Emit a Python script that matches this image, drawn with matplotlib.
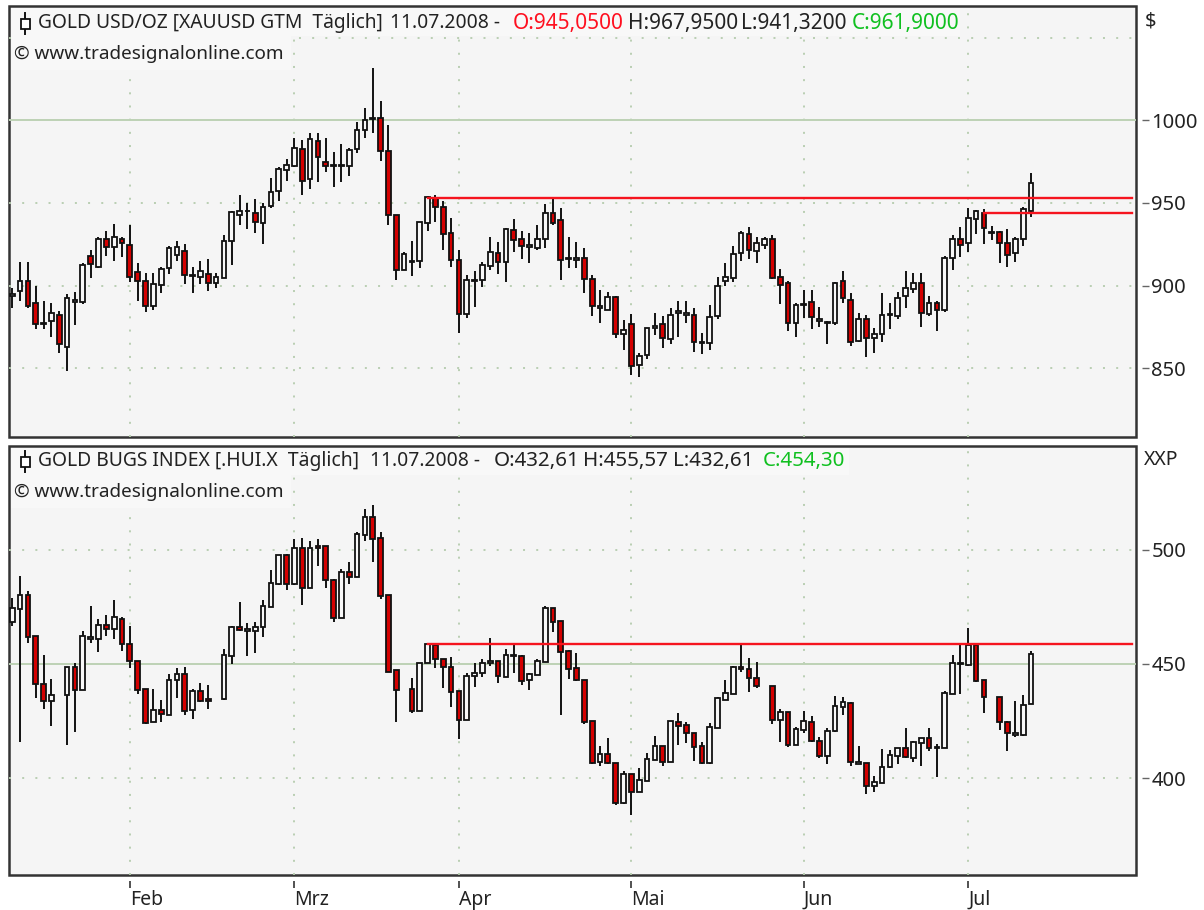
import numpy as np
import matplotlib
matplotlib.use('Agg')
import matplotlib.pyplot as plt
from matplotlib.lines import Line2D
from matplotlib.patches import Rectangle

nan = np.nan

# Gold USD/OZ, daily
gold_open = [894.0, 897.0, 902.9, 889.4, 877.7, 878.7, 882.3, 862.8, 890.4, 890.4,
             917.8, 911.5, 928.0, 923.4, 928.2, 924.6, 908.5, 902.9, 887.7, 900.4,
             910.7, 918.6, 921.0, 906.5, 905.1, 907.3, 901.4, 904.9, 926.8, 942.8,
             945.0, 943.8, 938.1, 948.4, 957.5, 970.2, 972.4, 982.7, 964.3, 987.5,
             975.0, 972.6, 972.6, 972.4, 982.9, 994.1, 1000.6, 1001.4, 981.6, 943.0,
             909.5, 914.6, 915.2, 938.1, 952.8, 947.6, 931.7, 915.6, 882.9, 902.7,
             903.7, 911.7, 920.0, 914.1, 933.9, 928.3, 923.4, 922.6, 928.1, 944.0,
             939.5, 916.2, 915.5, 916.5, 904.1, 886.7, 885.3, 893.0, 870.6, 876.7,
             852.1, 858.1, 874.2, 876.7, 868.0, 883.3, 882.3, 882.3, 865.2, 865.2,
             881.9, 902.6, 904.9, 920.0, 931.5, 921.0, 924.6, 928.0, 905.1, 901.8,
             877.7, 888.3, 890.4, 878.9, 877.7, 877.3, 902.6, 891.2, 866.8, 880.1,
             868.4, 870.8, 882.1, 881.9, 893.6, 898.2, 901.6, 883.1, 889.6, 885.3,
             916.6, 928.0, 925.6, 940.3, 944.2, 931.7, 932.5, 925.6, 919.8, 928.0, 945.05]
gold_high = [898.4, 914.5, 914.5, 899.8, 890.6, 889.4, 884.7, 895.0, 896.2, 913.6,
             921.6, 929.7, 933.1, 937.5, 929.7, 936.7, 913.6, 907.9, 907.9, 911.5,
             924.0, 927.2, 925.0, 911.3, 914.7, 915.9, 907.5, 930.9, 945.4, 954.8,
             950.2, 952.4, 949.8, 965.1, 972.0, 976.4, 989.1, 988.1, 992.5, 992.5,
             989.1, 981.0, 985.7, 983.1, 999.2, 1007.2, 1031.4, 1011.9, 997.2, 943.0,
             920.2, 927.2, 938.7, 954.2, 954.9, 951.2, 940.8, 921.6, 906.5, 909.1,
             914.5, 929.7, 926.2, 935.1, 940.1, 933.1, 932.1, 936.7, 949.2, 953.2,
             946.8, 929.7, 926.2, 922.6, 906.5, 897.4, 896.4, 893.8, 879.3, 882.7,
             859.5, 874.6, 883.7, 881.7, 886.3, 890.8, 890.8, 886.3, 871.2, 888.3,
             905.5, 913.5, 924.0, 933.3, 935.3, 929.2, 929.6, 930.7, 910.1, 903.0,
             889.3, 897.4, 897.4, 887.3, 878.9, 902.0, 909.1, 895.4, 883.7, 882.3,
             874.6, 895.4, 889.4, 896.4, 908.9, 907.9, 907.9, 894.0, 890.6, 918.0,
             930.5, 935.3, 946.8, 945.8, 946.6, 936.3, 932.9, 934.1, 929.3, 947.8, 967.95]
gold_low = [886.3, 891.0, 886.8, 873.6, 873.6, 869.2, 859.1, 848.6, 876.3, 888.7,
            904.7, 910.5, 918.2, 914.9, 917.2, 902.5, 890.8, 884.1, 885.1, 895.4,
            906.9, 914.9, 901.0, 895.4, 901.2, 896.6, 898.8, 904.5, 912.5, 936.5,
            934.3, 932.1, 925.2, 946.8, 951.4, 963.1, 972.0, 954.8, 958.3, 962.9,
            968.6, 959.5, 962.9, 966.5, 980.0, 989.1, 992.5, 975.4, 936.7, 903.5,
            909.3, 905.9, 910.5, 933.1, 938.7, 921.6, 911.5, 871.2, 880.3, 887.4,
            899.0, 909.5, 907.1, 902.5, 920.6, 916.0, 914.0, 921.6, 922.6, 936.7,
            903.5, 910.5, 910.5, 895.4, 881.7, 877.3, 885.0, 868.2, 861.1, 846.0,
            845.0, 855.5, 870.2, 862.1, 864.8, 869.2, 877.3, 860.1, 858.7, 861.1,
            879.7, 900.0, 902.4, 914.9, 915.9, 913.9, 922.0, 903.9, 888.7, 872.8,
            869.2, 880.7, 873.8, 875.2, 864.8, 876.2, 889.8, 863.6, 865.8, 856.7,
            859.1, 866.0, 873.8, 879.7, 886.3, 895.4, 874.8, 881.9, 872.6, 884.1,
            909.3, 917.2, 920.2, 931.3, 925.2, 927.6, 913.9, 911.5, 914.5, 924.0, 941.32]
gold_close = [894.8, 902.9, 887.7, 876.7, 876.9, 883.5, 865.0, 892.6, 891.4, 912.5,
              913.1, 928.4, 923.6, 929.3, 925.6, 905.1, 902.9, 887.7, 900.8, 910.1,
              922.6, 923.6, 906.3, 906.1, 908.7, 901.6, 905.3, 927.2, 944.4, 945.2,
              945.4, 938.5, 947.6, 956.7, 970.6, 972.8, 983.1, 963.3, 988.7, 978.0,
              972.6, 973.0, 973.0, 982.2, 994.3, 1000.2, 1001.4, 981.6, 942.8, 909.5,
              919.2, 915.2, 938.3, 953.8, 947.4, 931.3, 915.6, 882.9, 903.3, 903.3,
              912.3, 920.2, 914.1, 934.1, 927.9, 924.2, 924.6, 928.3, 944.2, 938.1,
              915.4, 917.0, 916.5, 903.9, 887.9, 887.9, 893.0, 870.6, 873.0, 851.5,
              857.3, 874.4, 875.6, 868.6, 882.5, 884.7, 883.5, 866.2, 866.2, 881.3,
              899.6, 905.3, 919.2, 932.1, 921.4, 926.0, 928.2, 904.9, 900.4, 877.7,
              888.3, 889.2, 881.3, 880.1, 878.1, 901.8, 892.6, 866.2, 880.1, 868.6,
              871.0, 882.5, 882.7, 892.8, 898.6, 901.8, 883.3, 889.4, 885.5, 917.0,
              928.2, 924.6, 940.7, 945.2, 934.7, 932.5, 925.6, 918.6, 928.0, 946.6, 961.90]

# Gold Bugs Index, days without a print stay empty
hui_open = [468.4, 474.2, 480.2, 462.1, 441.2, 433.6, nan, 436.3, 448.8, 438.7,
            461.1, 461.1, 466.9, 465.1, 469.7, 458.7, 451.1, 438.9, 424.6, 429.7,
            427.8, 443.0, 445.5, 429.7, 438.0, 434.5, nan, 434.5, 453.6, 466.0,
            464.4, 464.3, 466.0, 475.1, 484.8, 497.7, 484.8, 500.9, 483.4, 501.8,
            501.8, 486.8, 470.1, 490.2, 488.2, 506.6, 514.2, 505.1, 480.2, 447.2,
            nan, 438.9, 429.5, 450.3, 458.1, 452.0, 448.7, 438.0, 425.5, 444.6,
            446.2, 450.3, 451.1, 444.4, 453.5, 453.6, 442.8, 445.3, 451.0, 474.3,
            468.6, 455.7, 448.1, 442.9, 424.9, 407.1, 410.6, 406.5, 389.0, 401.7,
            393.9, 398.9, 407.9, 414.1, 407.2, 424.7, 423.1, 419.9, 414.1, 406.5,
            422.1, 434.2, 437.0, 448.5, 447.8, 443.7, nan, 440.5, 425.4, 428.8,
            414.5, 421.2, 424.7, 416.4, 409.8, 420.5, 431.1, 433.0, 406.3, 406.6,
            396.6, 398.0, 404.7, 409.7, 413.2, 408.7, 415.5, 417.4, 413.2, 413.1,
            437.0, 449.8, 449.4, 458.1, 443.0, nan, 435.7, 424.7, 418.9, 418.7, 432.61]
hui_high = [478.7, 488.6, 482.1, 462.2, 453.9, 443.3, nan, 448.8, 450.6, 464.6,
            475.4, 469.7, 471.4, 478.0, 470.4, 466.6, 451.4, 438.9, 439.0, 434.1,
            445.6, 448.1, 448.8, 438.9, 441.5, 440.6, nan, 456.4, 466.8, 477.3,
            468.1, 468.2, 478.0, 491.1, 497.9, 498.0, 504.7, 505.3, 503.8, 504.5,
            501.8, 487.0, 491.4, 494.5, 507.6, 517.7, 519.4, 507.6, 480.2, 447.4,
            nan, 444.0, 450.6, 458.8, 458.6, 452.0, 453.2, 438.3, 446.2, 450.6,
            452.0, 461.5, 451.3, 456.4, 458.3, 453.9, 446.2, 452.0, 475.4, 474.3,
            468.8, 455.9, 454.6, 442.9, 425.0, 414.1, 417.4, 406.5, 403.3, 401.7,
            404.3, 410.9, 418.4, 414.1, 425.0, 428.4, 424.7, 419.9, 416.0, 424.0,
            435.4, 443.0, 449.1, 458.3, 452.4, 450.7, nan, 440.5, 430.1, 429.1,
            422.2, 429.5, 427.3, 418.2, 421.8, 435.9, 435.7, 433.2, 414.1, 406.8,
            400.9, 412.6, 412.3, 413.3, 421.8, 416.4, 417.7, 421.8, 414.9, 438.1,
            453.9, 458.3, 465.6, 458.3, 443.0, nan, 435.7, 425.0, 433.9, 436.5, 455.57]
hui_low = [466.7, 416.0, 459.3, 435.1, 430.3, 422.8, nan, 414.5, 420.3, 438.5,
           459.3, 455.1, 462.4, 460.8, 455.8, 448.1, 436.7, 423.6, 424.5, 424.4,
           427.7, 435.2, 427.6, 426.1, 433.5, 430.3, nan, 434.4, 449.8, 464.4,
           453.5, 454.9, 461.6, 475.0, 484.7, 482.4, 484.7, 475.8, 483.3, 493.0,
           483.1, 468.2, 470.0, 485.0, 488.1, 504.0, 494.8, 478.3, 446.3, 424.4,
           nan, 428.7, 429.4, 450.2, 448.4, 439.3, 431.0, 417.0, 425.4, 440.1,
           444.4, 449.2, 441.8, 444.3, 445.9, 440.8, 438.6, 445.2, 450.9, 464.1,
           427.7, 443.2, 442.7, 423.7, 406.2, 405.5, 406.4, 388.1, 388.9, 383.9,
           393.8, 398.8, 407.8, 405.5, 407.1, 414.5, 415.2, 407.6, 406.4, 406.4,
           422.0, 434.1, 436.9, 446.6, 437.6, 439.3, nan, 423.6, 415.9, 413.6,
           414.4, 419.6, 416.0, 409.0, 406.0, 420.4, 427.6, 405.5, 406.2, 392.9,
           393.8, 397.9, 404.6, 406.2, 409.0, 406.9, 405.3, 412.0, 400.4, 413.0,
           436.9, 436.8, 449.3, 442.1, 428.4, nan, 421.1, 411.9, 417.9, 418.6, 432.61]
hui_close = [474.3, 480.3, 461.6, 441.1, 433.6, 436.4, nan, 448.8, 438.7, 462.1,
             461.9, 467.0, 465.3, 470.4, 458.6, 451.1, 438.7, 424.0, 429.7, 428.0,
             443.0, 445.5, 429.5, 438.2, 433.8, 433.9, nan, 453.8, 466.2, 465.0,
             465.4, 466.0, 475.4, 485.3, 497.7, 484.8, 500.9, 483.4, 500.9, 500.9,
             486.7, 470.3, 490.4, 488.2, 506.9, 514.2, 504.8, 479.9, 446.6, 438.6,
             nan, 429.3, 450.4, 458.6, 452.0, 448.8, 437.9, 425.5, 444.7, 446.2,
             450.3, 451.1, 444.6, 453.8, 453.8, 442.7, 445.5, 451.3, 474.6, 468.5,
             455.2, 447.8, 442.8, 424.4, 406.8, 410.7, 406.5, 389.0, 401.7, 394.1,
             399.2, 408.4, 414.1, 407.2, 424.9, 422.8, 419.6, 413.8, 406.5, 422.4,
             434.9, 437.4, 448.8, 447.6, 443.7, 440.3, nan, 425.4, 429.1, 414.4,
             421.5, 424.9, 416.4, 409.7, 420.8, 431.6, 433.2, 407.1, 407.2, 396.6,
             398.3, 404.9, 410.1, 413.2, 409.1, 416.0, 417.4, 413.1, 413.5, 437.4,
             450.5, 450.3, 458.3, 442.7, 435.4, nan, 424.7, 419.6, 419.6, 432.2, 454.30]

month_labels = ['Feb', 'Mrz', 'Apr', 'Mai', 'Jun', 'Jul']
month_index = [15, 36, 57, 79, 101, 122]

gold_ticks = [850, 900, 950, 1000]
gold_grid = [850, 900, 950, 1050]
gold_solid = 1000
hui_ticks = [400, 450, 500]
hui_grid = [400, 500]
hui_solid = 450

# (start candle, price)
gold_levels = [(53, 953.2), (124, 944.1)]
hui_levels = [(53, 458.6)]
level_end = 142.9

W, H = 1204, 910
PANEL = '#f5f5f5'
FRAME = '#333333'
DOT = '#b5ccae'
SOLID = '#bdd2b5'
RED = '#d40000'
LEVEL = '#f5141e'
TXT = '#222222'

plt.rcParams['font.family'] = ['Noto Sans', 'DejaVu Sans']

fig = plt.figure(figsize=(W / 100, H / 100), dpi=100, facecolor='white')


def add_panel(top, bottom):
    ax = fig.add_axes([9 / W, 1 - bottom / H, (1136 - 9) / W, (bottom - top) / H])
    ax.set_facecolor(PANEL)
    ax.patch.set_edgecolor(FRAME)
    ax.patch.set_linewidth(1.8)
    for s in ax.spines.values():
        s.set_visible(False)
    # keep ticks detached from the frame
    ax.spines['right'].set_position(('outward', 4))
    ax.spines['bottom'].set_position(('outward', 4.5))
    ax.yaxis.tick_right()
    ax.set_xlim(-0.42, 143.4)
    return ax


def candles(ax, o, h, l, c):
    o, h, l, c = [np.array(v, dtype=float) for v in (o, h, l, c)]
    x = np.arange(len(o))
    ok = ~np.isnan(o)
    ax.vlines(x[ok], l[ok], h[ok], color='#111111', lw=1.4, zorder=3)
    down = c < o
    ax.bar(x[ok], np.abs(c - o)[ok], bottom=np.minimum(o, c)[ok], width=0.6,
           color=np.where(down[ok], RED, '#f8f8f8'), edgecolor='#111111', linewidth=1.3, zorder=4)


def grid(ax, levels, solid):
    for m in month_index:
        ax.axvline(m, color=DOT, lw=1.3, ls=(0, (1.1, 6.2)), zorder=1)
    for v in levels:
        ax.axhline(v, color=DOT, lw=1.3, ls=(0, (1.1, 6.2)), zorder=1)
    ax.axhline(solid, color=SOLID, lw=1.4, zorder=1)


def levels(ax, rows):
    for start, price in rows:
        ax.plot([start, level_end], [price, price], color=LEVEL, lw=1.7, zorder=5)


def label(x, y, s, color=TXT, size=14, box=None):
    fig.text(x / W, 1 - y / H, s, color=color, fontsize=size, ha='left', va='center',
             bbox=box, zorder=10)


def icon(y):
    fig.add_artist(Line2D([25 / W, 25 / W], [1 - (y - 11) / H, 1 - (y + 10) / H], color='#111111', lw=1.4))
    fig.add_artist(Rectangle((20.5 / W, 1 - (y + 5) / H), 9 / W, 10 / H, transform=fig.transFigure,
                             facecolor='white', edgecolor='#111111', lw=1.3, zorder=3))


# Top panel
ax1 = add_panel(6, 437)
ax1.set_ylim(808.5, 1069.1)
grid(ax1, gold_grid, gold_solid)
candles(ax1, gold_open, gold_high, gold_low, gold_close)
levels(ax1, gold_levels)
ax1.set_yticks(gold_ticks)
ax1.set_xticks([])
ax1.tick_params(axis='y', length=5, width=1, color='#666666', labelsize=14.5, labelcolor=TXT, pad=2)

# Bottom panel
ax2 = add_panel(446, 875)
ax2.set_ylim(357.6, 545.4)
grid(ax2, hui_grid, hui_solid)
candles(ax2, hui_open, hui_high, hui_low, hui_close)
levels(ax2, hui_levels)
ax2.set_yticks(hui_ticks)
ax2.set_xticks(month_index, month_labels, ha='left')
ax2.tick_params(axis='y', length=5, width=1, color='#666666', labelsize=14.5, labelcolor=TXT, pad=2)
ax2.tick_params(axis='x', length=5, width=1.2, color='#333333', labelsize=14, labelcolor=TXT, pad=1)

# Header masks and texts
mask = '#f8f8f8'
fig.add_artist(Rectangle((11 / W, 1 - 36 / H), 949 / W, 28 / H, transform=fig.transFigure, facecolor=mask, edgecolor='none', zorder=2))
fig.add_artist(Rectangle((11 / W, 1 - 70 / H), 280 / W, 34 / H, transform=fig.transFigure, facecolor=mask, edgecolor='none', zorder=2))
fig.add_artist(Rectangle((11 / W, 1 - 475 / H), 838 / W, 27 / H, transform=fig.transFigure, facecolor=mask, edgecolor='none', zorder=2))
fig.add_artist(Rectangle((11 / W, 1 - 508 / H), 280 / W, 33 / H, transform=fig.transFigure, facecolor=mask, edgecolor='none', zorder=2))

icon(24)
label(38, 23, 'GOLD USD/OZ [XAUUSD GTM  Täglich]', size=13.85)
label(390, 23, '11.07.2008 -', size=13.85)
label(513, 23, 'O:945,0500', color='#ff1020', size=15)
label(628, 23, 'H:967,9500', size=15)
label(741, 23, 'L:941,3200', size=15)
label(852, 23, 'C:961,9000', color='#10c020', size=15)
label(14, 54, '© www.tradesignalonline.com', size=13.6)

icon(462)
label(38, 461, 'GOLD BUGS INDEX [.HUI.X  Täglich]', size=13.95)
label(370, 461, '11.07.2008 -', size=13.85)
label(494, 461, 'O:432,61', size=14.8)
label(583, 461, 'H:455,57', size=14.8)
label(673, 461, 'L:432,61', size=14.8)
label(763, 461, 'C:454,30', color='#10c020', size=14.8)
label(14, 492, '© www.tradesignalonline.com', size=13.6)

label(1145, 22, '$', size=14.5)
label(1144, 460, 'XXP', size=14)

fig.savefig('out.png', dpi=100, facecolor='white')
